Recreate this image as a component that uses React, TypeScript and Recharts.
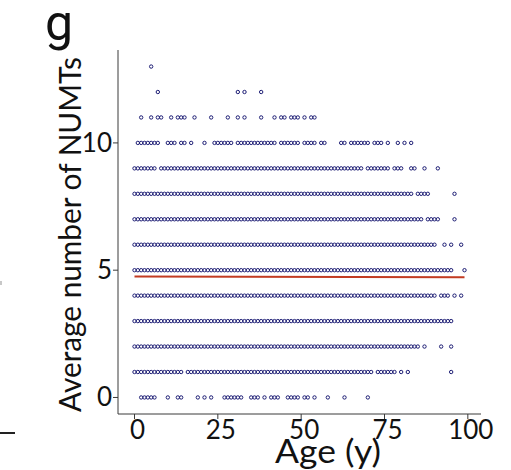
import React from "react";
import { ScatterChart, Scatter, XAxis, YAxis, ReferenceLine } from "recharts";

// Ages (y) observed for each average number of NUMTs (0..13)
const agesAt0 = [2,3,4,5,6,10,13,14,19,21,23,27,28,29,30,31,32,35,36,37,39,41,42,43,46,47,48,49,51,52,54,58,63,70];
const agesAt1 = [0,1,2,3,4,5,6,7,8,9,10,11,12,13,14,16,17,18,19,20,21,22,23,24,25,26,27,28,29,30,31,32,33,34,35,36,37,38,39,40,41,42,43,44,45,46,47,48,49,50,51,52,53,54,55,56,57,58,59,60,61,62,63,64,65,66,67,68,69,70,71,73,74,75,76,77,78,80,82,95];
const agesAt2 = [0,1,2,3,4,5,6,7,8,9,10,11,12,13,14,15,16,17,18,19,20,21,22,23,24,25,26,27,28,29,30,31,32,33,34,35,36,37,38,39,40,41,42,43,44,45,46,47,48,49,50,51,52,53,54,55,56,57,58,59,60,61,62,63,64,65,66,67,68,69,70,71,72,73,74,75,76,77,78,79,80,81,82,83,84,85,87,92,95];
const agesAt3 = [0,1,2,3,4,5,6,7,8,9,10,11,12,13,14,15,16,17,18,19,20,21,22,23,24,25,26,27,28,29,30,31,32,33,34,35,36,37,38,39,40,41,42,43,44,45,46,47,48,49,50,51,52,53,54,55,56,57,58,59,60,61,62,63,64,65,66,67,68,69,70,71,72,73,74,75,76,77,78,79,80,81,82,83,84,85,86,87,88,89,90,91,92,93,94,95];
const agesAt4 = [0,1,2,3,4,5,6,7,8,9,10,11,12,13,14,15,16,17,18,19,20,21,22,23,24,25,26,27,28,29,30,31,32,33,34,35,36,37,38,39,40,41,42,43,44,45,46,47,48,49,50,51,52,53,54,55,56,57,58,59,60,61,62,63,64,65,66,67,68,69,70,71,72,73,74,75,76,77,78,79,80,81,82,83,84,85,86,87,88,89,90,92,93,94,96,98];
const agesAt5 = [0,1,2,3,4,5,6,7,8,9,10,11,12,13,14,15,16,17,18,19,20,21,22,23,24,25,26,27,28,29,30,31,32,33,34,35,36,37,38,39,40,41,42,43,44,45,46,47,48,49,50,51,52,53,54,55,56,57,58,59,60,61,62,63,64,65,66,67,68,69,70,71,72,73,74,75,76,77,78,79,80,81,82,83,84,85,86,87,88,89,90,91,92,93,94,95,99];
const agesAt6 = [0,1,2,3,4,5,6,7,8,9,10,11,12,13,14,15,16,17,18,19,20,21,22,23,24,25,26,27,28,29,30,31,32,33,34,35,36,37,38,39,40,41,42,43,44,45,46,47,48,49,50,51,52,53,54,55,56,57,58,59,60,61,62,63,64,65,66,67,68,69,70,71,72,73,74,75,76,77,78,79,80,81,82,83,84,85,86,87,88,89,90,93,95,98];
const agesAt7 = [0,1,2,3,4,5,6,7,8,9,10,11,12,13,14,15,16,17,18,19,20,21,22,23,24,25,26,27,28,29,30,31,32,33,34,35,36,37,38,39,40,41,42,43,44,45,46,47,48,49,50,51,52,53,54,55,56,57,58,59,60,61,62,63,64,65,66,67,68,69,70,71,72,73,74,75,76,77,78,79,80,81,82,83,84,85,86,88,89,90,91,96];
const agesAt8 = [0,1,2,3,4,5,6,7,8,9,10,11,12,13,14,15,16,17,18,19,20,21,22,23,24,25,26,27,28,29,30,31,32,33,34,35,36,37,38,39,40,41,42,43,44,45,46,47,48,49,50,51,52,53,54,55,56,57,58,59,60,61,62,63,64,65,66,67,68,69,70,71,72,73,74,75,76,77,78,79,80,81,82,83,85,86,87,88,96];
const agesAt9 = [0,1,2,3,4,5,6,8,9,10,11,12,13,14,15,16,17,18,19,20,21,22,23,24,25,26,27,28,29,30,31,32,33,34,35,36,37,38,39,40,41,42,43,44,45,46,47,48,49,50,51,52,53,54,55,56,57,58,59,60,61,62,63,64,65,66,67,68,70,71,72,73,74,75,76,78,79,80,83,84,87,91];
const agesAt10 = [1,2,3,4,5,6,7,10,11,12,14,15,17,21,24,25,26,27,28,29,31,32,33,34,35,36,37,38,39,40,41,42,44,45,46,47,48,49,51,52,53,54,56,57,62,63,65,66,67,68,69,70,72,73,74,76,79,81,83];
const agesAt11 = [2,5,7,8,11,13,14,15,18,23,28,31,33,38,42,44,45,47,48,49,51,53,54];
const agesAt12 = [7,31,33,38];
const agesAt13 = [5];

const numtLevels = [0,1,2,3,4,5,6,7,8,9,10,11,12,13];
const agesByLevel = [agesAt0, agesAt1, agesAt2, agesAt3, agesAt4, agesAt5, agesAt6, agesAt7, agesAt8, agesAt9, agesAt10, agesAt11, agesAt12, agesAt13];

// Fitted regression line (age -> NUMTs)
const fitAges = [0, 99];
const fitValues = [4.75, 4.72];

const xTicks = [0, 25, 50, 75, 100];
const yTicks = [0, 5, 10];

const points = numtLevels.flatMap((v, i) => agesByLevel[i].map((a) => ({ age: a, numts: v })));

const FONT = "Lato, 'Open Sans', sans-serif";

const Dot = (props: any) => (
  <circle cx={props.cx} cy={props.cy} r={1.7} fill="none" stroke="#1c1c74" strokeWidth={1} />
);

const XTick = (props: any) => (
  <text x={props.x + 3} y={props.y + 18} textAnchor="middle" fontFamily={FONT} fontSize={26} fill="#111">
    {props.payload.value}
  </text>
);

const YTick = (props: any) => (
  <text x={props.x + 1} y={props.y + 9} textAnchor="end" fontFamily={FONT} fontSize={26} fill="#111">
    {props.payload.value}
  </text>
);

export default function App() {
  return (
    <div style={{ position: "absolute", left: 0, top: 0, width: 511, height: 470, background: "#fff" }}>
      <ScatterChart width={511} height={470} margin={{ top: 50, right: 30, bottom: 0, left: 0 }}>
        <XAxis
          type="number"
          dataKey="age"
          domain={[-4.95, 103.95]}
          ticks={xTicks}
          height={56}
          tickSize={5}
          axisLine={{ stroke: "#3a3a3a" }}
          tickLine={{ stroke: "#3a3a3a" }}
          tick={<XTick />}
          allowDataOverflow
        />
        <YAxis
          type="number"
          dataKey="numts"
          domain={[-0.65, 13.65]}
          ticks={yTicks}
          width={118}
          tickSize={5}
          axisLine={{ stroke: "#3a3a3a" }}
          tickLine={{ stroke: "#3a3a3a" }}
          tick={<YTick />}
          allowDataOverflow
        />
        <Scatter data={points} shape={<Dot />} isAnimationActive={false} />
        <ReferenceLine
          segment={[
            { x: fitAges[0], y: fitValues[0] },
            { x: fitAges[1], y: fitValues[1] },
          ]}
          stroke="#c23b22"
          strokeWidth={2}
        />
      </ScatterChart>
      <svg width={511} height={470} style={{ position: "absolute", left: 0, top: 0, pointerEvents: "none" }}>
        <text x={45} y={40} fontFamily="Roboto, Lato, sans-serif" fontSize={50} fill="#111">g</text>
        <text
          transform="translate(81,234.5) rotate(-90)"
          textAnchor="middle"
          fontFamily={FONT}
          fontSize={31}
          fill="#111"
          textLength={355}
          lengthAdjust="spacingAndGlyphs"
        >
          Average number of NUMTs
        </text>
        <text
          x={328}
          y={463}
          textAnchor="middle"
          fontFamily={FONT}
          fontSize={32}
          fill="#111"
          textLength={106}
          lengthAdjust="spacingAndGlyphs"
        >
          Age (y)
        </text>
        <rect x={0} y={432} width={15} height={2} fill="#222" />
        <rect x={0} y={281} width={2} height={4} fill="#c8c8c8" />
      </svg>
    </div>
  );
}
